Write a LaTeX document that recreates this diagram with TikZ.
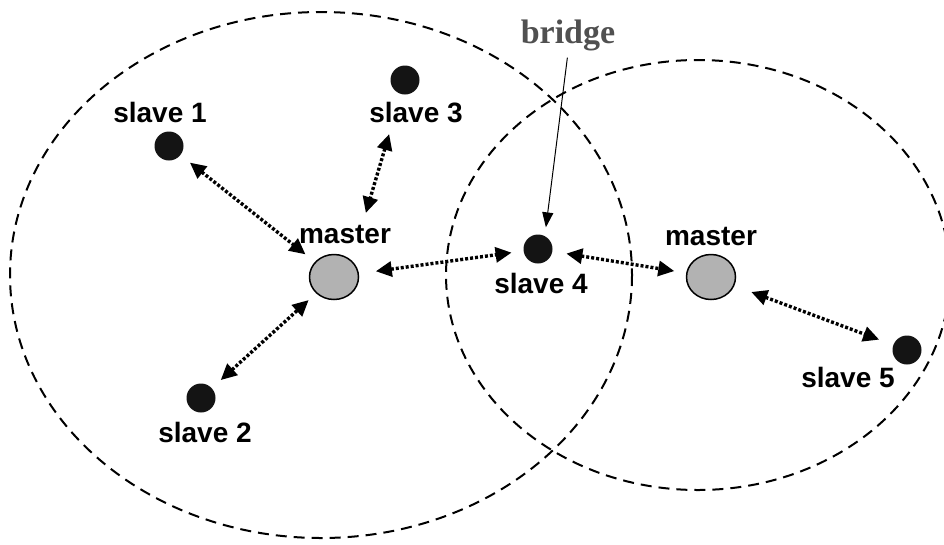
\documentclass[tikz,border=0pt]{standalone}
\usepackage{fontspec}
\setmainfont{Liberation Serif}
\setsansfont{Liberation Sans}
\usetikzlibrary{shapes.geometric, positioning, arrows.meta}
\definecolor{dotblack}{RGB}{20, 20, 20}
\definecolor{mastergray}{RGB}{178, 178, 178}
\definecolor{bridgegray}{RGB}{80, 80, 80}

\tikzset{
    coverage/.style={draw=black, line width=2pt, dash pattern=on 11pt off 7pt},
    slavedot/.style={circle, fill=dotblack, minimum size=29pt, inner sep=0pt},
    masterdot/.style={ellipse, fill=mastergray, draw=black, line width=1.5pt, minimum width=49pt, minimum height=45pt, inner sep=0pt},
    lbl/.style={font=\sffamily\bfseries\fontsize{28}{30}\selectfont, inner sep=2pt, anchor=base},
    link/.style={line width=3.4pt, dash pattern=on 3pt off 2pt, {Triangle[length=16pt,width=15pt]}-{Triangle[length=16pt,width=15pt]}, shorten <=12pt, shorten >=12pt},
    pointer/.style={draw=black, line width=1pt, -{Triangle[length=15pt,width=11pt]}, shorten <=5pt, shorten >=7pt}
}

\begin{document}
\begin{tikzpicture}[x=1pt, y=-1pt]
    \useasboundingbox (0,0) rectangle (944,544);
    % Piconet ranges
    \draw[coverage] (321,275) ellipse [x radius=311, y radius=263];
    \draw[coverage] (698,275) ellipse [x radius=252, y radius=215];

    % Devices
    \node[masterdot] (m1) at (334,277) {};
    \node[masterdot] (m2) at (711,277) {};
    \node[slavedot] (s1) at (169,146) {};
    \node[slavedot] (s2) at (201,398) {};
    \node[slavedot] (s3) at (405,80) {};
    \node[slavedot] (s4) at (538,249) {};
    \node[slavedot] (s5) at (907,350) {};

    % Labels
    \node[lbl] (m1lbl) at (345,243) {master};
    \node[lbl] (m2lbl) at (711,245) {master};
    \node[lbl] (s1lbl) at (160,122) {slave 1};
    \node[lbl] (s2lbl) at (205,442) {slave 2};
    \node[lbl] (s3lbl) at (416,122) {slave 3};
    \node[lbl] (s4lbl) at (541,293) {slave 4};
    \node[lbl] (s5lbl) at (848,387) {slave 5};
    \node[font=\rmfamily\bfseries\fontsize{34}{36}\selectfont, text=bridgegray, inner sep=2pt, anchor=base] (bridge) at (568,43) {bridge};

    % Links
    \draw[link] (s1) -- (m1);
    \draw[link, shorten >=10pt] (s2) -- (m1);
    \draw[link, shorten <=10pt, shorten >=10pt] ([xshift=-24pt]s3lbl.south) -- ([xshift=18pt]m1lbl.north);
    \draw[link, shorten <=17pt] (m1) -- (s4);
    \draw[link, shorten <=14pt] (s4) -- (m2);
    \draw[link, shorten <=18pt, shorten >=15pt] (m2) -- (s5);
    \draw[pointer] (bridge.south) -- ([xshift=7pt]s4.north);
\end{tikzpicture}
\end{document}
